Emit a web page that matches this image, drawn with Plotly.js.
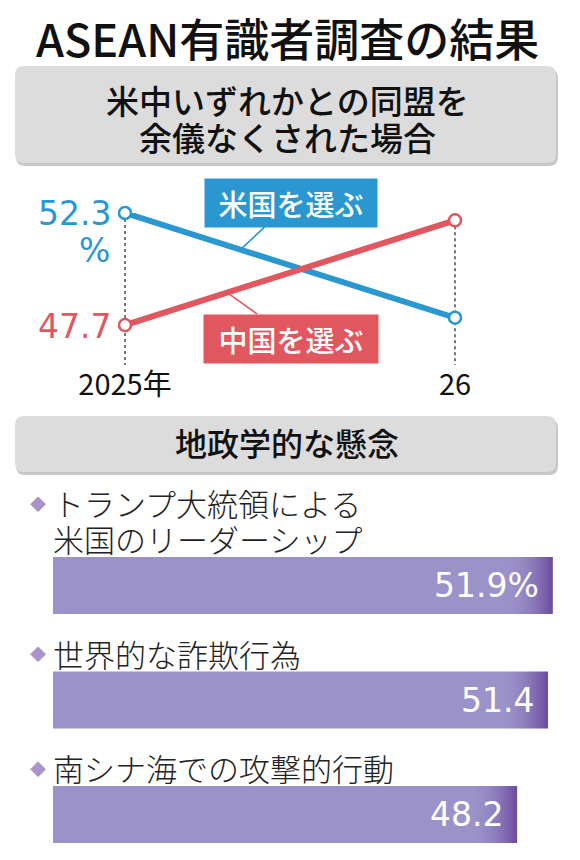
<!DOCTYPE html>
<html><head><meta charset="utf-8">
<script src="https://cdn.plot.ly/plotly-3.0.1.min.js"></script>
<style>html,body{margin:0;padding:0;background:#fff}#chart{width:580px;height:860px}</style>
</head><body><div id="chart"></div>
<script>
// ---- data ----
const years = ['2025年', '26'];
const usShare = [52.3, 48.0];
const chinaShare = [47.7, 52.0];
const seriesNames = ['米国を選ぶ', '中国を選ぶ'];
const concerns = ['トランプ大統領による<br>米国のリーダーシップ', '世界的な詐欺行為', '南シナ海での攻撃的行動'];
const concernValues = [51.9, 51.4, 48.2];
const titleText = 'ASEAN有識者調査の結果';
const section1Text = '米中いずれかとの同盟を<br>余儀なくされた場合';
const section2Text = '地政学的な懸念';

// ---- style ----
const BLUE = '#2b97d1', RED = '#e0575f', PURPLE = '#9b92c9', DARKPURPLE = '#6a4a9e', BOXGRAY = '#dcdcdc';
const W = 580, H = 860;
const px = v => v / W, py = v => 1 - v / H;
const JP = 'Noto Sans CJK JP, sans-serif';
const NUM = 'DejaVu Sans, Noto Sans, sans-serif';
const yLineRange = [46.06, 52.3];
const BAR_W = 0.498, GRAD_UNITS = 5.0;

function rrect(x0, y0, x1, y1, r) {
  const X = v => (v / W).toFixed(5), Y = v => (1 - v / H).toFixed(5);
  return `M${X(x0 + r)},${Y(y0)} L${X(x1 - r)},${Y(y0)} Q${X(x1)},${Y(y0)} ${X(x1)},${Y(y0 + r)} ` +
    `L${X(x1)},${Y(y1 - r)} Q${X(x1)},${Y(y1)} ${X(x1 - r)},${Y(y1)} L${X(x0 + r)},${Y(y1)} ` +
    `Q${X(x0)},${Y(y1)} ${X(x0)},${Y(y1 - r)} L${X(x0)},${Y(y0 + r)} Q${X(x0)},${Y(y0)} ${X(x0 + r)},${Y(y0)} Z`;
}

const traces = [];
years.forEach((yr, i) => {
  traces.push({
    type: 'scatter', mode: 'lines', x: [yr, yr],
    y: [Math.max(usShare[i], chinaShare[i]), yLineRange[0]],
    line: {color: '#555', width: 1.6, dash: 'dot'}, hoverinfo: 'skip', xaxis: 'x', yaxis: 'y'
  });
});
[[usShare, BLUE, seriesNames[0]], [chinaShare, RED, seriesNames[1]]].forEach(([vals, col, nm]) => {
  traces.push({
    type: 'scatter', mode: 'lines+markers', name: nm, x: years, y: vals, cliponaxis: false,
    line: {color: col, width: 6},
    marker: {symbol: 'circle', size: 12, color: '#fff', line: {color: col, width: 2.5}},
    xaxis: 'x', yaxis: 'y'
  });
});
traces.push({
  type: 'bar', orientation: 'h', x: concernValues, y: concerns, width: BAR_W,
  marker: {color: PURPLE, line: {width: 0}}, hoverinfo: 'skip', xaxis: 'x2', yaxis: 'y2'
});

const shapes = [
  {type: 'path', xref: 'paper', yref: 'paper', path: rrect(16, 69, 558, 166, 9), fillcolor: '#c8c8c8', line: {width: 0}, layer: 'below'},
  {type: 'path', xref: 'paper', yref: 'paper', path: rrect(15, 66, 556, 163, 9), fillcolor: BOXGRAY, line: {width: 0}, layer: 'below'},
  {type: 'path', xref: 'paper', yref: 'paper', path: rrect(16, 419, 558, 475, 9), fillcolor: '#c8c8c8', line: {width: 0}, layer: 'below'},
  {type: 'path', xref: 'paper', yref: 'paper', path: rrect(15, 416, 556, 472, 9), fillcolor: BOXGRAY, line: {width: 0}, layer: 'below'}
];

const gradSvg = '<svg xmlns="http://www.w3.org/2000/svg" width="100" height="100" viewBox="0 0 100 100" preserveAspectRatio="none">' +
  '<defs><linearGradient id="g" x1="0" x2="1" y1="0" y2="0"><stop offset="0" stop-color="' + PURPLE + '" stop-opacity="0"/>' +
  '<stop offset="1" stop-color="' + DARKPURPLE + '"/></linearGradient></defs><rect width="100" height="100" fill="url(#g)"/></svg>';
const gradSrc = 'data:image/svg+xml;charset=utf-8,' + encodeURIComponent(gradSvg);
const images = concernValues.map((v, i) => ({
  source: gradSrc, xref: 'x2', yref: 'y2', x: v - GRAD_UNITS, y: i - BAR_W / 2,
  sizex: GRAD_UNITS, sizey: BAR_W, xanchor: 'left', yanchor: 'top', sizing: 'stretch', layer: 'above'
}));

const ann = [];
ann.push({xref: 'paper', yref: 'paper', x: px(287), y: py(37), xanchor: 'center', yanchor: 'middle', text: titleText, showarrow: false,
  font: {family: JP, size: 45, color: '#111', weight: 500}});
section1Text.split('<br>').forEach((ln, j) => {
  ann.push({xref: 'paper', yref: 'paper', x: px(287), y: py(100 + j * 37), xanchor: 'center', yanchor: 'middle', text: ln, showarrow: false,
    height: 36, borderpad: 0, font: {family: JP, size: 33, color: '#111', weight: 500}});
});
ann.push({xref: 'paper', yref: 'paper', x: px(287), y: py(442), xanchor: 'center', yanchor: 'middle', text: section2Text, showarrow: false,
  font: {family: JP, size: 32, color: '#111', weight: 500}});

const numFont = c => ({family: NUM, size: 33, color: c});
ann.push({x: years[0], y: usShare[0], xref: 'x', yref: 'y', text: usShare[0].toFixed(1), xanchor: 'right', yanchor: 'middle', xshift: -12, yshift: -1, showarrow: false, font: numFont(BLUE)});
ann.push({x: years[0], y: usShare[0], xref: 'x', yref: 'y', text: '%', xanchor: 'center', yanchor: 'middle', xshift: -31, yshift: -38, showarrow: false, font: numFont(BLUE)});
ann.push({x: years[0], y: chinaShare[0], xref: 'x', yref: 'y', text: chinaShare[0].toFixed(1), xanchor: 'right', yanchor: 'middle', xshift: -12, yshift: -1, showarrow: false, font: numFont(RED)});
ann.push({x: years[1], y: chinaShare[1], xref: 'x', yref: 'y', text: chinaShare[1].toFixed(1), xanchor: 'left', yanchor: 'middle', xshift: 12, showarrow: false, font: numFont(RED)});
ann.push({x: years[1], y: usShare[1], xref: 'x', yref: 'y', text: usShare[1].toFixed(1), xanchor: 'left', yanchor: 'middle', xshift: 12, showarrow: false, font: numFont(BLUE)});

const tU = 0.35, tC = 0.31;
ann.push({x: tU, y: usShare[0] + tU * (usShare[1] - usShare[0]), xref: 'x', yref: 'y', text: seriesNames[0],
  showarrow: true, arrowhead: 0, arrowwidth: 1.6, arrowcolor: BLUE, ax: 50, ay: -47,
  width: 160, height: 36, bgcolor: BLUE, borderpad: 6, font: {family: JP, size: 29, color: '#fff', weight: 500}});
ann.push({x: tC, y: chinaShare[0] + tC * (chinaShare[1] - chinaShare[0]), xref: 'x', yref: 'y', text: seriesNames[1],
  showarrow: true, arrowhead: 0, arrowwidth: 1.6, arrowcolor: RED, ax: 64, ay: 46,
  width: 162, height: 36, bgcolor: RED, borderpad: 6, font: {family: JP, size: 29, color: '#fff', weight: 500}});

concerns.forEach((c, i) => {
  const lines = c.split('<br>');
  lines.forEach((ln, j) => {
    const ys = 47 + (lines.length - 1 - j) * 36;
    ann.push({xref: 'paper', yref: 'y2', x: px(52), y: c, xanchor: 'left', yanchor: 'middle', yshift: ys,
      text: ln, showarrow: false, height: 35, borderpad: 0, font: {family: JP, size: 31, color: '#222', weight: 300}});
    if (j === 0) {
      ann.push({xref: 'paper', yref: 'y2', x: px(38), y: c, xanchor: 'center', yanchor: 'middle', yshift: ys,
        text: '◆', showarrow: false, font: {family: JP, size: 16, color: '#a993c9'}});
    }
  });
  ann.push({xref: 'x2', yref: 'y2', x: concernValues[i], y: c, xanchor: 'right', xshift: -12, yanchor: 'middle',
    text: concernValues[i].toFixed(1) + (i === 0 ? '%' : ''), showarrow: false, font: {family: NUM, size: 33, color: '#fff'}});
});

const layout = {
  width: W, height: H, margin: {l: 0, r: 0, t: 0, b: 0},
  paper_bgcolor: '#fff', plot_bgcolor: 'rgba(0,0,0,0)', showlegend: false,
  font: {family: JP},
  xaxis: {domain: [0, 1], type: 'category', range: [-125 / 330, 455 / 330], anchor: 'y',
    showgrid: false, zeroline: false, showline: false, ticks: '',
    tickfont: {family: 'Noto Sans CJK JP, sans-serif', size: 29, color: '#111'}},
  yaxis: {domain: [py(365), py(213)], range: yLineRange, visible: false, anchor: 'x'},
  xaxis2: {domain: [0, 1], range: [-53 / 9.63, 527 / 9.63], visible: false, anchor: 'y2'},
  yaxis2: {domain: [0, py(528.25)], type: 'category', range: [2.397, -0.5], visible: false, anchor: 'x2'},
  shapes: shapes, images: images, annotations: ann
};
Plotly.newPlot('chart', traces, layout, {staticPlot: true, displayModeBar: false});
</script></body></html>
